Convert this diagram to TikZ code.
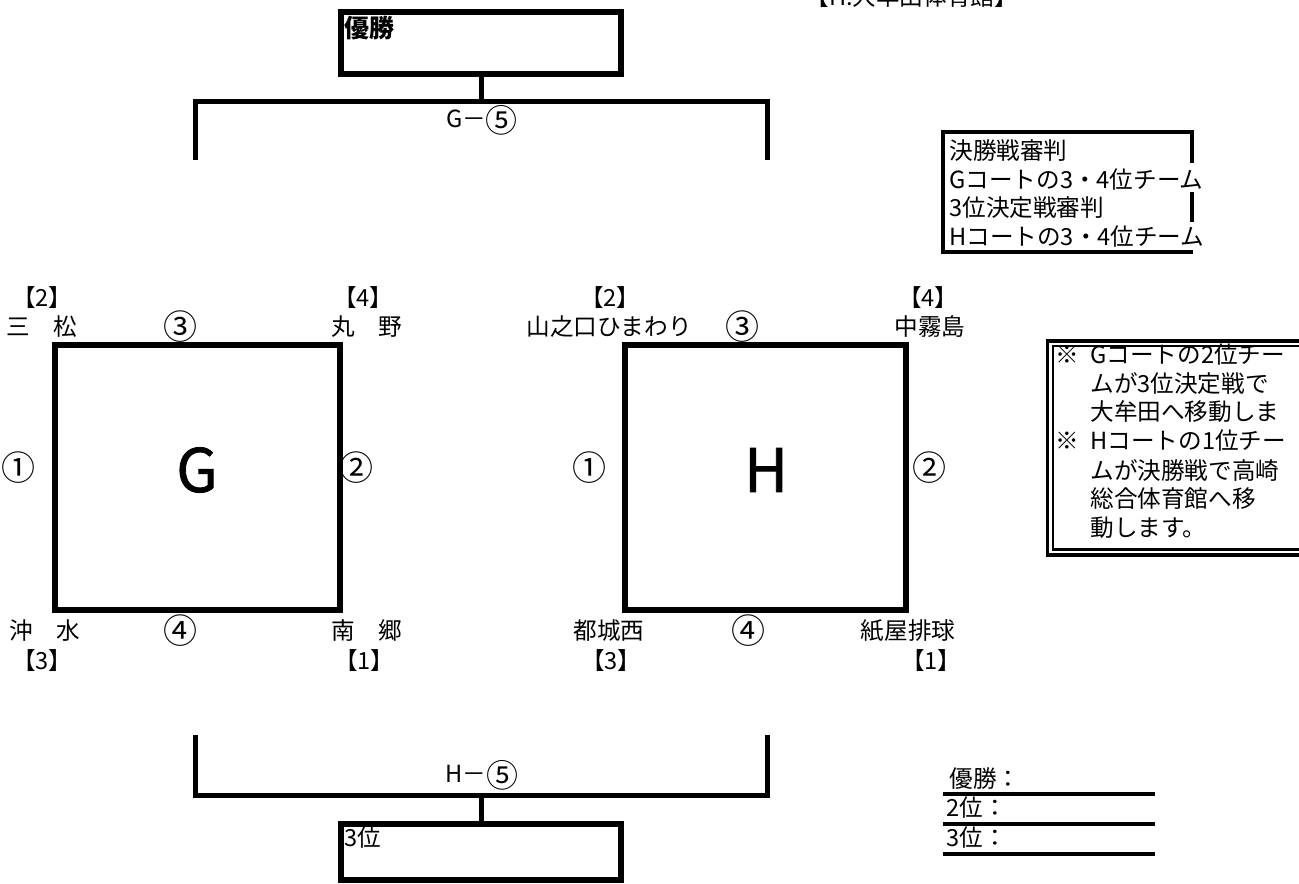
\documentclass[tikz,border=0pt]{standalone}
\usepackage{fontspec}
\setmainfont{Noto Sans CJK JP}
\newfontfamily\heavyfont[FakeBold=1.3]{Noto Sans CJK JP}
\newcommand{\pal}{\addfontfeatures{RawFeature=+palt}}
\newcommand{\cnum}[1]{\raisebox{-2.2pt}{\fontsize{16}{16}\selectfont #1}}
\begin{document}
\begin{tikzpicture}[x=0.5pt,y=-0.5pt,
  txt/.style={inner sep=0pt, font=\fontsize{11.8}{13}\selectfont},
  seed/.style={txt, font=\fontsize{11.8}{13}\selectfont\pal},
  circ/.style={inner sep=0pt, font=\fontsize{17}{18}\selectfont},
  big/.style={inner sep=0pt, font=\fontsize{30}{31}\heavyfont},
  bracketline/.style={line width=2.5pt},
  courtline/.style={line width=2.6pt},
  resbox/.style={draw, line width=3pt, inner sep=0pt, minimum width=140pt, minimum height=31pt},
  thinline/.style={line width=1.7pt},
  tableline/.style={line width=1.6pt}]
\useasboundingbox (0,0) rectangle (1299,883);

% venue header (cut at top)
\node[txt, anchor=west] (venue) at (805,-3) {【H:大牟田体育館】};

% final
\node[resbox] (win) at (481,43) {};
\node[txt, font=\fontsize{12.5}{14}\selectfont\bfseries, anchor=west] (wintxt) at (344,28) {優勝};
\coordinate (gM) at (481,102);
\coordinate (gL) at (195,160);
\coordinate (gR) at (767,160);
\draw[bracketline] (gL) |- (gM) -| (gR);
\draw[bracketline] (win.south) -- (gM);
\node[txt] (g5) at (482,120) {G－\cnum{⑤}};

% third place
\node[resbox, minimum height=28pt] (third) at (481,852) {};
\node[txt, anchor=west] (thirdtxt) at (344,838) {3位};
\coordinate (hM) at (481,795);
\coordinate (hL) at (195,735);
\coordinate (hR) at (767,735);
\draw[bracketline] (hL) |- (hM) -| (hR);
\draw[bracketline] (third.north) -- (hM);
\node[txt] (h5) at (482,775) {H－\cnum{⑤}};

% judges box
\draw[thinline] (1192,163) -- (1192,132) -- (943,132) -- (943,252) -- (1193,252);
\draw[thinline] (1192,192) -- (1192,222);
\node[txt, anchor=west] (j1) at (949,151) {決勝戦審判};
\node[txt, anchor=west] (j2) at (949,180) {Gコートの3・4位チーム};
\node[txt, anchor=west] (j3) at (949,208) {3位決定戦審判};
\node[txt, anchor=west] (j4) at (949,237) {Hコートの3・4位チーム};

% court G
\node[draw, courtline, inner sep=0pt, minimum width=142.5pt, minimum height=132.5pt] (courtG) at (197.5,477.5) {};
\node[big] (Glabel) at (197,470) {G};
\node[seed] (g2s) at (42,298) {【2】};
\node[txt] (g2) at (42,327) {三　松};
\node[circ] (g3m) at (180,327) {③};
\node[seed] (g4s) at (363,298) {【4】};
\node[txt] (g4) at (367,327) {丸　野};
\node[circ] (g1m) at (19,468) {①};
\node[circ] (g2m) at (356,468) {②};
\node[txt] (g3) at (45,631) {沖　水};
\node[circ] (g4m) at (180,631) {④};
\node[txt] (g1) at (367,631) {南　郷};
\node[seed] (g3s) at (42,661) {【3】};
\node[seed] (g1s) at (364,661) {【1】};

% court H
\node[draw, courtline, inner sep=0pt, minimum width=140.5pt, minimum height=132.5pt] (courtH) at (765.5,477.5) {};
\node[big] (Hlabel) at (766,470) {H};
\node[seed] (h2s) at (610,298) {【2】};
\node[txt] (h2) at (609,327) {山之口ひまわり};
\node[circ] (h3m) at (742,327) {③};
\node[seed] (h4s) at (928,298) {【4】};
\node[txt] (h4) at (930,327) {中霧島};
\node[circ] (h1m) at (589,468) {①};
\node[circ] (h2m) at (929,468) {②};
\node[txt] (h3) at (609,631) {都城西};
\node[circ] (h4m) at (748,631) {④};
\node[txt] (h1) at (908,631) {紙屋排球};
\node[seed] (h3s) at (611,661) {【3】};
\node[seed] (h1s) at (931,661) {【1】};

% note box (double frame, cut at right)
\draw[line width=1.6pt] (1047.5,341) rectangle (1320,555);
\draw[line width=1.3pt] (1053,346) rectangle (1320,549.5);
\node[txt, anchor=west] (n1a) at (1055,355) {※};
\node[txt, anchor=west] (n1) at (1090,355) {Gコートの2位チー};
\node[txt, anchor=west] (n2) at (1090,384) {ムが3位決定戦で};
\node[txt, anchor=west] (n3) at (1090,412) {大牟田へ移動しま};
\node[txt, anchor=west] (n4a) at (1055,441) {※};
\node[txt, anchor=west] (n4) at (1090,441) {Hコートの1位チー};
\node[txt, anchor=west] (n5) at (1090,470) {ムが決勝戦で高崎};
\node[txt, anchor=west] (n6) at (1090,499) {総合体育館へ移};
\node[txt, anchor=west] (n7) at (1090,528) {動します。};

% results table
\node[txt, anchor=west] (r1) at (949,779) {優勝：};
\node[txt, anchor=west] (r2) at (946,808) {2位：};
\node[txt, anchor=west] (r3) at (946,838) {3位：};
\draw[tableline] (943,794) -- (1155,794);
\draw[tableline] (943,824) -- (1155,824);
\draw[tableline] (943,854) -- (1155,854);
\end{tikzpicture}
\end{document}
